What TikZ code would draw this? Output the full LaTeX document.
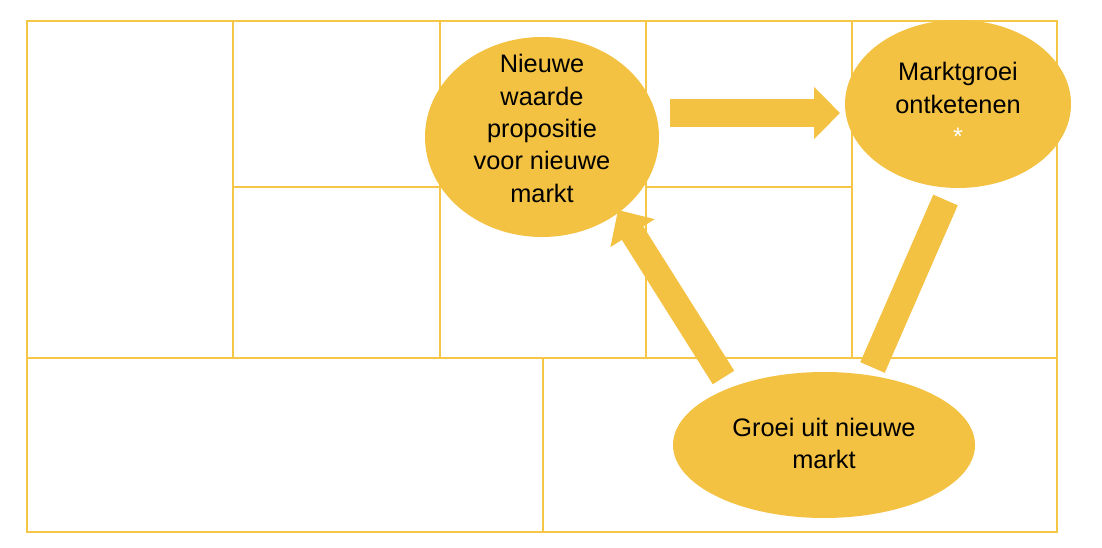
\documentclass[tikz,border=0pt]{standalone}
\usepackage{fontspec}
\setmainfont{Liberation Sans}
\usetikzlibrary{shapes.geometric,arrows.meta}
\definecolor{goldfill}{RGB}{244,194,67}
\definecolor{goldline}{RGB}{245,198,72}
\tikzset{
  gridline/.style={draw=goldline, line width=1.5pt},
  blob/.style={ellipse, fill=goldfill, draw=none, inner sep=0pt},
  txt/.style={align=center, inner sep=0pt, font=\fontsize{19}{24.3}\selectfont, text=black},
  blockarrow/.style={draw=goldfill, line width=#1, line cap=butt},
}
\begin{document}
\begin{tikzpicture}[x=0.75pt, y=-0.75pt]
\useasboundingbox (0,0) rectangle (1102,548);
% grid
\draw[gridline] (27,21) rectangle (1057,532);
\draw[gridline] (27,358) -- (1057,358);
\foreach \xx in {233,440,646,852} \draw[gridline] (\xx,21) -- (\xx,358);
\draw[gridline] (233,187) -- (440,187);
\draw[gridline] (646,187) -- (852,187);
\draw[gridline] (543,358) -- (543,532);
% ellipses
\node[blob, minimum width=175.5pt, minimum height=150pt] (prop) at (542,137) {};
\node[blob, minimum width=169.5pt, minimum height=126pt] (groei) at (958,104) {};
\node[blob, minimum width=226.5pt, minimum height=109.5pt] (markt) at (824,445) {};
% texts
\node[txt] (proptxt) at (542,128.5) {Nieuwe\\waarde\\propositie\\voor nieuwe\\markt};
\node[txt] (groeitxt) at (958,104) {Marktgroei\\ontketenen\\\textcolor{white}{*}};
\node[txt] (markttxt) at (824,443.5) {Groei uit nieuwe\\markt};
% connectors
\coordinate (a1s) at (670,113);
\coordinate (a1e) at (840,113);
\coordinate (a2s) at (723.5,377.5);
\coordinate (a2e) at (618,210);
\coordinate (b3s) at (945.5,200);
\coordinate (b3e) at (872.5,367.5);
\draw[blockarrow=21pt, -{Triangle[width=38pt, length=19.5pt]}] (a1s) -- (a1e);
\draw[blockarrow=19pt, -{Triangle[width=38pt, length=20.5pt]}] (a2s) -- (a2e);
\draw[blockarrow=20pt] (b3s) -- (b3e);
\end{tikzpicture}
\end{document}
